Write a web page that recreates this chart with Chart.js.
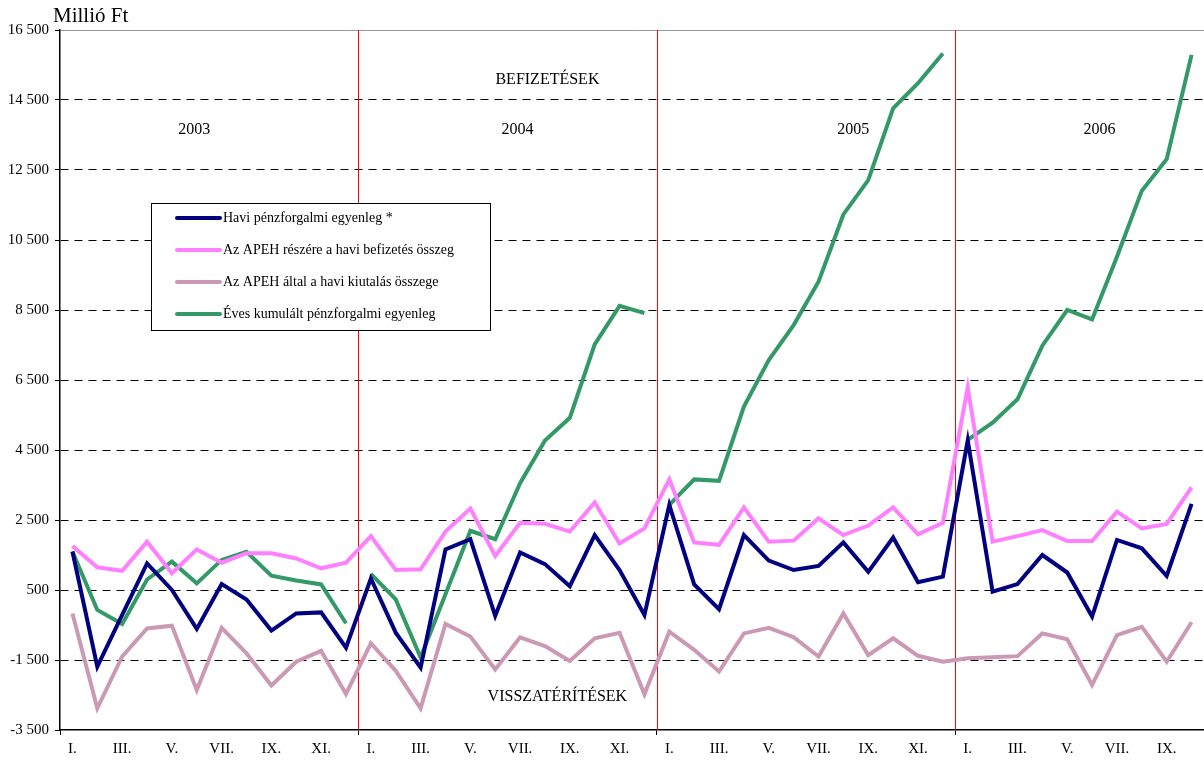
<!DOCTYPE html>
<html>
<head>
<meta charset="utf-8">
<script src="https://cdn.jsdelivr.net/npm/chart.js@4/dist/chart.umd.min.js"></script>
<style>
  html, body { margin: 0; padding: 0; background: #fff; }
  #wrap { position: relative; width: 1204px; height: 762px; }
</style>
</head>
<body>
<div id="wrap"><canvas id="chart" width="1204" height="762"></canvas></div>
<script>
// hónapok (2003 I. - 2006 X.)
const months = ['I.', 'II.', 'III.', 'IV.', 'V.', 'VI.', 'VII.', 'VIII.', 'IX.', 'X.', 'XI.', 'XII.'];
const years = ['2003', '2004', '2005', '2006'];
const labels = [...months, ...months, ...months, ...months.slice(0, 10)];

// Havi pénzforgalmi egyenleg *
const balance = [
  1600, -1690, -210, 1260, 500, -610, 670, 230, -660, -170, -140, -1150,
  830, -720, -1720, 1660, 1950, -240, 1570, 1240, 610, 2070, 1070, -210,
  2930, 660, -50, 2070, 1340, 1070, 1190, 1860, 1020, 2000, 720, 880,
  4770, 450, 670, 1500, 1000, -260, 1930, 1690, 900, 2960
];
// Az APEH részére a havi befizetés összeg
const payments = [
  1760, 1150, 1050, 1880, 980, 1660, 1280, 1550, 1550, 1400, 1120, 1280,
  2040, 1070, 1090, 2170, 2830, 1470, 2420, 2390, 2170, 3000, 1830, 2260,
  3660, 1860, 1790, 2860, 1880, 1910, 2550, 2070, 2340, 2860, 2090, 2420,
  6290, 1880, 2040, 2210, 1900, 1900, 2740, 2260, 2390, 3430
];
// Az APEH által a havi kiutalás összege
const refunds = [
  -170, -2880, -1400, -600, -520, -2360, -580, -1310, -2230, -1550, -1240, -2470,
  -1020, -1810, -2880, -470, -830, -1770, -850, -1100, -1530, -880, -720, -2480,
  -690, -1210, -1830, -740, -580, -850, -1400, -170, -1360, -880, -1380, -1550,
  -1450, -1420, -1390, -740, -910, -2210, -790, -550, -1550, -420
];
// Éves kumulált pénzforgalmi egyenleg (évente újraindul)
const cumulative = [
  1600, -70, -470, 800, 1310, 690, 1360, 1590, 910, 770, 660, -450,
  960, 230, -1430, 380, 2190, 1950, 3550, 4770, 5420, 7520, 8620, 8410,
  2930, 3660, 3620, 5740, 7070, 8070, 9310, 11230, 12210, 14260, 14980, 15830,
  4790, 5280, 5950, 7480, 8500, 8230, 10020, 11910, 12810, 15790
];

const serif = "'Liberation Serif', 'Times New Roman', serif";

// szövegek a rajzon (index, érték)
const notes = [
  { text: 'BEFIZETÉSEK', x: 19.1, y: 15070 },
  { text: years[0], x: 4.9, y: 13640 },
  { text: years[1], x: 17.9, y: 13640 },
  { text: years[2], x: 31.4, y: 13640 },
  { text: years[3], x: 41.3, y: 13640 },
  { text: 'VISSZATÉRÍTÉSEK', x: 19.5, y: -2560 }
];

// évhatárok (piros függőleges vonalak)
const yearLines = {
  id: 'yearLines',
  beforeDatasetsDraw(chart) {
    const ctx = chart.ctx, xs = chart.scales.x, a = chart.chartArea;
    ctx.save();
    ctx.strokeStyle = '#ff0000';
    ctx.lineWidth = 1;
    for (let i = 12; i < labels.length; i += 12) {
      const x = Math.round((xs.getPixelForValue(i - 1) + xs.getPixelForValue(i)) / 2) + 0.5;
      ctx.beginPath();
      ctx.moveTo(x, a.top);
      ctx.lineTo(x, a.bottom);
      ctx.stroke();
    }
    ctx.restore();
  }
};

const extras = {
  id: 'extras',
  afterDraw(chart) {
    const ctx = chart.ctx;
    const xs = chart.scales.x, ys = chart.scales.y;
    ctx.save();
    ctx.fillStyle = '#000';
    ctx.font = '21px ' + serif;
    ctx.textAlign = 'left';
    ctx.textBaseline = 'alphabetic';
    ctx.fillText('Millió Ft', 53, 22);

    ctx.font = '16px ' + serif;
    ctx.textAlign = 'center';
    ctx.textBaseline = 'middle';
    notes.forEach(n => ctx.fillText(n.text, xs.getPixelForValue(n.x), ys.getPixelForValue(n.y)));

    // jelmagyarázat
    const bx = 151, by = 203, bw = 339, bh = 127;
    ctx.fillStyle = '#fff';
    ctx.fillRect(bx, by, bw, bh);
    ctx.strokeStyle = '#000';
    ctx.lineWidth = 1;
    ctx.strokeRect(bx + 0.5, by + 0.5, bw, bh);
    ctx.font = '14px ' + serif;
    ctx.textAlign = 'left';
    chart.data.datasets.forEach((ds, i) => {
      const yy = by + 15 + i * 32;
      ctx.strokeStyle = ds.borderColor;
      ctx.lineWidth = 4;
      ctx.lineCap = 'round';
      ctx.beginPath();
      ctx.moveTo(177, yy);
      ctx.lineTo(220, yy);
      ctx.stroke();
      ctx.fillStyle = '#000';
      ctx.fillText(ds.label, 223, yy);
    });
    ctx.restore();
  }
};

new Chart(document.getElementById('chart'), {
  type: 'line',
  data: {
    labels: labels,
    datasets: [
      { label: 'Havi pénzforgalmi egyenleg *', data: balance, borderColor: '#000080', borderWidth: 4 },
      { label: 'Az APEH részére a havi befizetés összeg', data: payments, borderColor: '#ff80ff', borderWidth: 4 },
      { label: 'Az APEH által a havi kiutalás összege', data: refunds, borderColor: '#cc99b4', borderWidth: 4 },
      {
        label: 'Éves kumulált pénzforgalmi egyenleg', data: cumulative, borderColor: '#339966', borderWidth: 4,
        segment: { borderColor: c => (c.p1DataIndex % 12 === 0 ? 'transparent' : undefined) }
      }
    ]
  },
  options: {
    responsive: false,
    animation: false,
    devicePixelRatio: 1,
    layout: { padding: { top: 30, right: 0, left: 0, bottom: 0 } },
    elements: { point: { radius: 0 }, line: { tension: 0 } },
    plugins: { legend: { display: false }, tooltip: { enabled: false } },
    scales: {
      x: {
        offset: true,
        grid: {
          offset: true,
          drawTicks: true,
          tickLength: 5,
          color: 'transparent',
          tickColor: c => (c.index % 12 === 0 ? '#000' : 'transparent'),
          lineWidth: 1
        },
        border: { display: true, color: '#000', width: 1.5 },
        ticks: {
          autoSkip: false,
          maxRotation: 0,
          padding: 5,
          color: '#000',
          font: { family: serif, size: 15 },
          callback: (v, i) => (i % 2 === 0 ? labels[i] : '')
        },
        afterFit: s => { s.height = 32; }
      },
      y: {
        min: -3500,
        max: 16500,
        grid: {
          tickLength: 5,
          color: c => (c.tick.value === 16500 ? '#999' : c.tick.value === -3500 ? 'transparent' : '#000'),
          tickColor: '#000',
          lineWidth: 1
        },
        border: {
          display: true, color: '#000', width: 1.5,
          dash: c => (c.tick && c.tick.value === 16500 ? [] : [8, 6])
        },
        ticks: {
          stepSize: 2000,
          padding: 6,
          color: '#000',
          font: { family: serif, size: 15 },
          callback: v => {
            const s = Math.abs(v).toString();
            const t = s.length > 3 ? s.slice(0, -3) + ' ' + s.slice(-3) : s;
            return (v < 0 ? '-' : '') + t;
          }
        },
        afterFit: s => { s.width = 60; }
      }
    }
  },
  plugins: [yearLines, extras]
});
</script>
</body>
</html>
